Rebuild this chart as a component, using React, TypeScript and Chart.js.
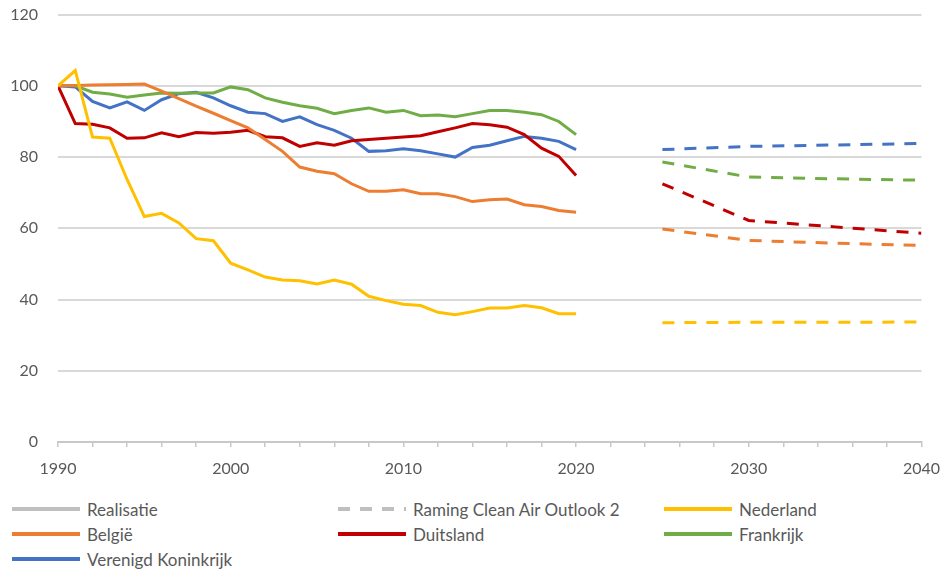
import React, { useEffect, useRef } from "react";
import { Chart, registerables } from "chart.js";
Chart.register(...registerables);

const years = [1990, 1991, 1992, 1993, 1994, 1995, 1996, 1997, 1998, 1999, 2000, 2001, 2002, 2003, 2004, 2005, 2006, 2007, 2008, 2009, 2010, 2011, 2012, 2013, 2014, 2015, 2016, 2017, 2018, 2019, 2020];
const projYears = [2025, 2030, 2035, 2040];

const nederland = [100, 104.3, 85.6, 85.3, 73.7, 63.3, 64.2, 61.5, 57.1, 56.5, 50.2, 48.3, 46.3, 45.5, 45.3, 44.4, 45.5, 44.3, 40.9, 39.7, 38.7, 38.3, 36.4, 35.7, 36.6, 37.6, 37.6, 38.3, 37.7, 36.0, 36.0];
const belgie = [100, 100.1, 100.2, 100.3, 100.4, 100.5, 98.5, 96.4, 94.3, 92.3, 90.2, 88.2, 84.9, 81.6, 77.2, 76.0, 75.3, 72.5, 70.4, 70.4, 70.8, 69.7, 69.7, 68.9, 67.5, 68.0, 68.2, 66.6, 66.1, 65.0, 64.5];
const duitsland = [100, 89.4, 89.2, 88.2, 85.3, 85.4, 86.8, 85.7, 86.9, 86.7, 87.0, 87.5, 85.7, 85.4, 83.0, 84.0, 83.3, 84.6, 84.9, 85.3, 85.6, 86.0, 87.1, 88.2, 89.4, 89.1, 88.4, 86.3, 82.5, 80.2, 74.8];
const frankrijk = [100, 100.0, 98.2, 97.7, 96.8, 97.4, 98.0, 97.9, 98.0, 98.0, 99.7, 98.9, 96.6, 95.4, 94.4, 93.7, 92.2, 93.1, 93.8, 92.6, 93.1, 91.6, 91.8, 91.3, 92.2, 93.1, 93.1, 92.6, 91.9, 90.0, 86.3];
const verenigdKoninkrijk = [100, 99.7, 95.6, 93.8, 95.5, 93.1, 96.1, 97.8, 98.2, 96.6, 94.4, 92.6, 92.2, 90.0, 91.3, 89.1, 87.5, 85.3, 81.6, 81.8, 82.3, 81.8, 80.9, 80.0, 82.7, 83.3, 84.6, 85.8, 85.3, 84.4, 82.1];

const nederlandProj = [33.5, 33.6, 33.6, 33.7];
const belgieProj = [59.8, 56.6, 55.8, 55.2];
const duitslandProj = [72.5, 62.2, 60.4, 58.6];
const frankrijkProj = [78.6, 74.4, 73.9, 73.5];
const verenigdKoninkrijkProj = [82.1, 83.0, 83.4, 83.8];

const yTicks = [0, 20, 40, 60, 80, 100, 120];
const xLabelYears = [1990, 2000, 2010, 2020, 2030, 2040];

const countries = [
  { name: "Nederland", color: "#FFC000", real: nederland, proj: nederlandProj },
  { name: "België", color: "#ED7D31", real: belgie, proj: belgieProj },
  { name: "Duitsland", color: "#C00000", real: duitsland, proj: duitslandProj },
  { name: "Frankrijk", color: "#70AD47", real: frankrijk, proj: frankrijkProj },
  { name: "Verenigd Koninkrijk", color: "#4472C4", real: verenigdKoninkrijk, proj: verenigdKoninkrijkProj },
];

const legendItems = [
  { label: "Realisatie", color: "#BFBFBF", dashed: false },
  { label: "Raming Clean Air Outlook 2", color: "#BFBFBF", dashed: true },
  ...countries.map((c) => ({ label: c.name, color: c.color, dashed: false })),
];

const FONT = "Lato, 'Open Sans', sans-serif";
const TEXT = "#595959";

export default function App() {
  const ref = useRef<HTMLCanvasElement | null>(null);

  useEffect(() => {
    document.body.style.margin = "0";
    const datasets: any[] = [];
    countries.forEach((c) => {
      datasets.push({
        label: c.name,
        data: years.map((y, i) => ({ x: y, y: c.real[i] })),
        borderColor: c.color,
        borderWidth: 3,
        pointRadius: 0,
        tension: 0,
        fill: false,
      });
      datasets.push({
        label: c.name + " raming",
        data: projYears.map((y, i) => ({ x: y, y: c.proj[i] })),
        borderColor: c.color,
        borderWidth: 3,
        borderDash: [12, 10],
        pointRadius: 0,
        tension: 0,
        fill: false,
      });
    });
    const chart = new Chart(ref.current!, {
      type: "line",
      data: { datasets },
      options: {
        animation: false,
        responsive: false,
        maintainAspectRatio: false,
        layout: { padding: 0 },
        plugins: { legend: { display: false }, tooltip: { enabled: false } },
        scales: {
          x: {
            type: "linear",
            min: 1990,
            max: 2040,
            afterFit: (s: any) => {
              s.height = 48;
            },
            afterBuildTicks: (s: any) => {
              const t: any[] = [];
              for (let v = 1990; v <= 2040; v += 2) t.push({ value: v });
              s.ticks = t;
            },
            ticks: {
              autoSkip: false,
              maxRotation: 0,
              padding: 12,
              color: TEXT,
              font: { family: FONT, size: 16 },
              callback: (v: any) => (xLabelYears.includes(Number(v)) ? String(v) : ""),
            },
            grid: {
              drawOnChartArea: false,
              drawTicks: true,
              tickLength: 5,
              color: "#C8C8C8",
              lineWidth: 1.5,
            },
            border: { display: true, color: "#C8C8C8", width: 2 },
          },
          y: {
            min: 0,
            max: 120,
            afterFit: (s: any) => {
              s.width = 58;
            },
            afterBuildTicks: (s: any) => {
              s.ticks = yTicks.map((v) => ({ value: v }));
            },
            ticks: {
              padding: 20,
              color: TEXT,
              font: { family: FONT, size: 16 },
            },
            grid: {
              drawTicks: false,
              color: (ctx: any) => (ctx.tick && ctx.tick.value === 0 ? "rgba(0,0,0,0)" : "#D9D9D9"),
              lineWidth: 2,
            },
            border: { display: false },
          },
        },
      },
    });
    return () => chart.destroy();
  }, []);

  const colLeft = [12, 338, 664];
  return (
    <div style={{ position: "relative", width: 942, height: 571, fontFamily: FONT, color: TEXT, overflow: "hidden" }}>
      <canvas ref={ref} width={952} height={505} style={{ position: "absolute", left: 0, top: -15, width: 952, height: 505 }} />
      {legendItems.map((it, i) => {
        const col = i % 3;
        const row = Math.floor(i / 3);
        const cy = 509 + row * 25;
        return (
          <div key={it.label} style={{ position: "absolute", left: colLeft[col], top: cy - 12, height: 24, display: "flex", alignItems: "center" }}>
            {it.dashed ? (
              <svg width={68} height={4} style={{ display: "block" }}>
                <line x1={0} y1={2} x2={68} y2={2} stroke={it.color} strokeWidth={4} strokeDasharray="12 10" />
              </svg>
            ) : (
              <div style={{ width: 68, height: 4, background: it.color }} />
            )}
            <span style={{ marginLeft: 7, fontSize: 17, whiteSpace: "nowrap" }}>{it.label}</span>
          </div>
        );
      })}
    </div>
  );
}
